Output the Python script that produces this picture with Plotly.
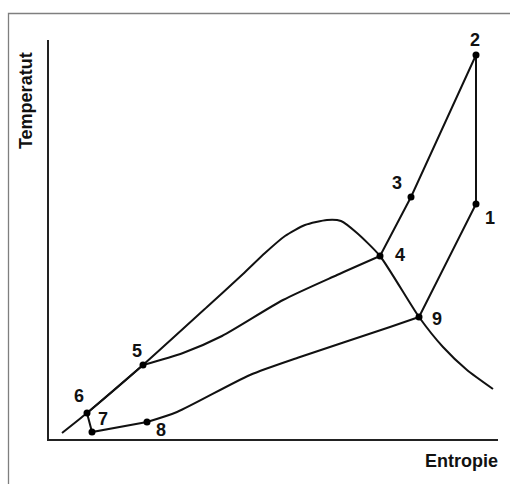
import plotly.graph_objects as go

# ---- data (arbitrary units: entropy s, temperature T) ----
point_labels = ["1", "2", "3", "4", "5", "6", "7", "8", "9"]
point_s = [427, 427, 362, 331, 94, 38, 43, 98, 370]
point_T = [235, 384, 242, 183, 74, 26, 7, 17, 122]

# saturation dome
dome_s = [13, 38, 94, 158, 194, 216, 236, 256, 278, 292, 308, 331, 370, 394, 418, 444]
dome_T = [6, 26, 74, 132, 165, 186, 203, 214, 219, 218, 206, 183, 122, 92, 69, 50]

# curve 5 -> 4
mid_s = [94, 134, 173, 234, 288, 331]
mid_T = [74, 86, 103, 139, 164, 183]

# curve 8 -> 9
low_s = [98, 128, 201, 251, 341, 370]
low_T = [17, 27, 64, 82, 112, 122]

# straight segments, given by point labels
path_a = ["9", "1", "2", "3", "4"]
path_b = ["5", "6", "7", "8"]

# label offsets in pixels (dx, dy upward)
label_shift = {"1": (14, -14), "2": (-1, 15), "3": (-14, 14), "4": (20, 1),
               "5": (-6, 14), "6": (-8, 17), "7": (11, 13), "8": (14, -8),
               "9": (18, -2)}

idx = {l: i for i, l in enumerate(point_labels)}
LINE = dict(color="#111111", width=2)

fig = go.Figure()
fig.add_trace(go.Scatter(x=dome_s, y=dome_T, mode="lines",
                         line=dict(shape="spline", smoothing=0.6, **LINE),
                         hoverinfo="skip", cliponaxis=False))
fig.add_trace(go.Scatter(x=mid_s, y=mid_T, mode="lines",
                         line=dict(shape="spline", smoothing=0.7, **LINE),
                         hoverinfo="skip", cliponaxis=False))
fig.add_trace(go.Scatter(x=low_s, y=low_T, mode="lines",
                         line=dict(shape="spline", smoothing=0.7, **LINE),
                         hoverinfo="skip", cliponaxis=False))
for path in (path_a, path_b):
    fig.add_trace(go.Scatter(x=[point_s[idx[p]] for p in path],
                             y=[point_T[idx[p]] for p in path],
                             mode="lines", line=LINE, hoverinfo="skip",
                             cliponaxis=False))
fig.add_trace(go.Scatter(x=point_s, y=point_T, mode="markers",
                         marker=dict(color="#000000", size=7),
                         cliponaxis=False))

FONT = dict(family="Liberation Sans, Arial, sans-serif", size=18, color="#111111")
for l, s, t in zip(point_labels, point_s, point_T):
    dx, dy = label_shift[l]
    fig.add_annotation(x=s, y=t, xref="x", yref="y", text="<b>%s</b>" % l,
                       showarrow=False, xshift=dx, yshift=dy, font=FONT,
                       xanchor="center", yanchor="middle")

fig.add_annotation(x=-0.0512, y=0.847, xref="paper", yref="paper",
                   text="<b>Temperatut</b>", textangle=-90, showarrow=False,
                   font=FONT, xanchor="center", yanchor="middle")
fig.add_annotation(x=0.9176, y=-0.0551, xref="paper", yref="paper",
                   text="<b>Entropie</b>", showarrow=False, font=FONT,
                   xanchor="center", yanchor="middle")

# outer frame
fig.add_shape(type="rect", xref="paper", yref="paper",
              x0=-0.0902, x1=1.3, y0=-0.4, y1=1.0664,
              line=dict(color="#7f7f7f", width=1.3), layer="below")

axis = dict(showline=True, linewidth=2, linecolor="#222222", showgrid=False,
            zeroline=False, showticklabels=False, ticks="")
fig.update_xaxes(range=[0, 449], **axis)
fig.update_yaxes(range=[0, 399], **axis)
fig.update_layout(width=510, height=484, showlegend=False,
                  margin=dict(l=49, r=12, t=40, b=45),
                  paper_bgcolor="white", plot_bgcolor="white")

fig.write_html("out.html", config={"displayModeBar": False},
               post_script="document.body.style.margin='0';"
                           "document.body.style.overflow='hidden';")
